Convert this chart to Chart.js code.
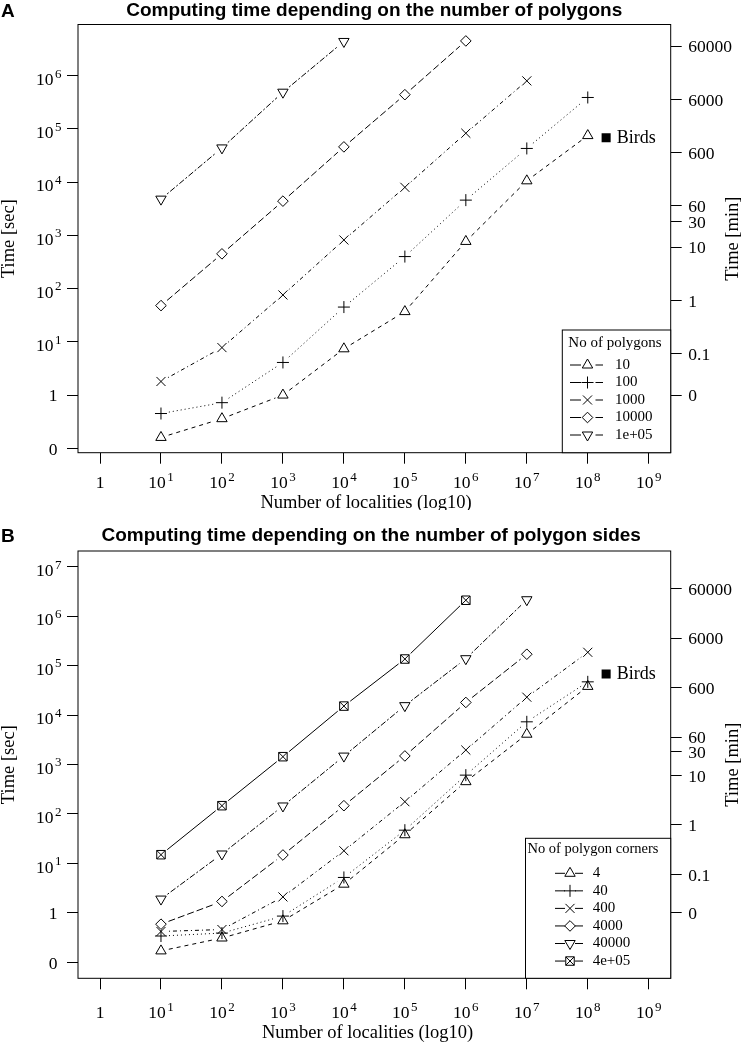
<!DOCTYPE html>
<html>
<head>
<meta charset="utf-8">
<script src="https://cdn.jsdelivr.net/npm/chart.js@4.4.1/dist/chart.umd.min.js"></script>
<style>
html, body { margin: 0; padding: 0; background: #fff; }
#wrap { position: relative; width: 741px; height: 1042px; }
canvas { position: absolute; left: 0; }
#cA { top: 0; }
#cB { top: 510px; }
</style>
</head>
<body>
<div id="wrap">
  <canvas id="cA" width="741" height="510"></canvas>
  <canvas id="cB" width="741" height="532"></canvas>
</div>
<script>
// number of localities (x axis)
var localities = [10, 1e2, 1e3, 1e4, 1e5, 1e6, 1e7, 1e8];

// A: computing time [sec] by number of polygons
var polyLabels = ['10', '100', '1000', '10000', '1e+05'];
var polyT10   = [0.16, 0.36, 1.0, 7.4, 37, 770, 10600, 75000];
var polyT100  = [0.45, 0.72, 4.1, 45, 400, 4600, 43000, 390000];
var polyT1000 = [1.8, 7.8, 76, 820, 8000, 83000, 800000];
var polyT1e4  = [48, 450, 4400, 46000, 440000, 4.5e6];
var polyT1e5  = [4800, 44000, 490000, 4.4e6];

// B: computing time [sec] by number of polygon corners
var sideLabels = ['4', '40', '400', '4000', '40000', '4e+05'];
var sideT4    = [0.17, 0.31, 0.69, 3.8, 38, 450, 4100, 38000];
var sideT40   = [0.34, 0.39, 0.86, 5.2, 47, 610, 7300, 47000];
var sideT400  = [0.42, 0.46, 2.1, 18, 177, 1960, 23000, 186000];
var sideT4000 = [0.59, 1.7, 14.8, 147, 1490, 18000, 170000];
var sideT4e4  = [1.9, 15.5, 145, 1480, 15500, 138000, 2.15e6];
var sideT4e5  = [15, 147, 1440, 15200, 136000, 2.1e6];

// the birds data set
var birdsA = {x: 2e8, y: 68000};
var birdsB = {x: 2e8, y: 67600};

// ticks ('^' marks the exponent)
var xTicks = [1, 10, 1e2, 1e3, 1e4, 1e5, 1e6, 1e7, 1e8, 1e9];
var xTickLabels = ['1', '10^1', '10^2', '10^3', '10^4', '10^5', '10^6', '10^7', '10^8', '10^9'];
var secTicksA = [0.1, 1, 10, 1e2, 1e3, 1e4, 1e5, 1e6];
var secTicksB = [0.1, 1, 10, 1e2, 1e3, 1e4, 1e5, 1e6, 1e7];
var secTickLabels = ['0', '1', '10^1', '10^2', '10^3', '10^4', '10^5', '10^6', '10^7'];
var minTicks = [1 / 60, 0.1, 1, 10, 30, 60, 600, 6000, 60000];
var minTickLabels = ['0', '0.1', '1', '10', '30', '60', '600', '6000', '60000'];

var SERIF = "'Liberation Serif', 'Times New Roman', serif";
var SANS = "'Liberation Sans', Arial, sans-serif";
var GAP = 8;

// marker + line type for each series (R pch 2..7, lty 2..6,1)
var marks = [
  {style: 'triangle', r: 6, rot: 0, dash: [4, 4]},
  {style: 'cross', r: 6, rot: 0, dash: [1, 3]},
  {style: 'crossRot', r: 6.4, rot: 0, dash: [1, 3, 4, 3]},
  {style: 'rectRot', r: 5.3, rot: 0, dash: [7, 3]},
  {style: 'triangle', r: 6, rot: 180, dash: [2, 2, 6, 2]},
  {style: 'boxx', r: 6, rot: 0, dash: []}
];

function pts(vals) {
  return vals.map(function (v, i) { return {x: localities[i], y: v}; });
}

function makeDatasets(series, labels, birds) {
  var ds = [];
  series.forEach(function (vals, i) {
    var m = marks[i];
    var d = {
      label: labels[i], data: pts(vals),
      borderColor: '#000', backgroundColor: 'rgba(0,0,0,0)',
      pointBorderWidth: 1, pointRadius: m.r, pointRotation: m.rot,
      pointStyle: m.style === 'boxx' ? 'rect' : m.style,
      dash: m.dash
    };
    ds.push(d);
    if (m.style === 'boxx') {
      ds.push({label: labels[i], data: d.data, borderColor: '#000', backgroundColor: 'rgba(0,0,0,0)',
        pointBorderWidth: 1, pointRadius: m.r, pointStyle: 'crossRot'});
    }
  });
  ds.push({label: 'Birds', data: [birds], pointStyle: 'rect', pointRadius: 6.4,
    backgroundColor: '#000', borderColor: '#000', pointBorderWidth: 0, birds: true});
  return ds;
}

// legend markers
function drawMarker(ctx, m, x, y) {
  var r = m.r, k = Math.SQRT1_2;
  ctx.beginPath();
  if (m.style === 'triangle') {
    var a = m.rot * Math.PI / 180;
    ctx.moveTo(x + Math.sin(a) * r, y - Math.cos(a) * r);
    a += 2 * Math.PI / 3;
    ctx.lineTo(x + Math.sin(a) * r, y - Math.cos(a) * r);
    a += 2 * Math.PI / 3;
    ctx.lineTo(x + Math.sin(a) * r, y - Math.cos(a) * r);
    ctx.closePath();
  } else if (m.style === 'cross') {
    ctx.moveTo(x - r, y); ctx.lineTo(x + r, y);
    ctx.moveTo(x, y - r); ctx.lineTo(x, y + r);
  } else if (m.style === 'crossRot') {
    ctx.moveTo(x - r * k, y - r * k); ctx.lineTo(x + r * k, y + r * k);
    ctx.moveTo(x - r * k, y + r * k); ctx.lineTo(x + r * k, y - r * k);
  } else if (m.style === 'rectRot') {
    ctx.moveTo(x - r, y); ctx.lineTo(x, y - r); ctx.lineTo(x + r, y); ctx.lineTo(x, y + r);
    ctx.closePath();
  } else if (m.style === 'boxx') {
    ctx.rect(x - r * k, y - r * k, 2 * r * k, 2 * r * k);
    ctx.moveTo(x - r * k, y - r * k); ctx.lineTo(x + r * k, y + r * k);
    ctx.moveTo(x - r * k, y + r * k); ctx.lineTo(x + r * k, y - r * k);
  }
  ctx.stroke();
}

// tick label, "10^k" gets a raised exponent
function tickText(ctx, text, x, y, align) {
  var parts = text.split('^');
  ctx.textBaseline = 'alphabetic';
  ctx.font = '17.5px ' + SERIF;
  if (parts.length === 1) {
    ctx.textAlign = align;
    ctx.fillText(text, x, y);
    return;
  }
  var w1 = ctx.measureText(parts[0]).width;
  ctx.font = '13px ' + SERIF;
  var w2 = ctx.measureText(parts[1]).width;
  var gap = 1.5, total = w1 + gap + w2;
  var x0 = align === 'left' ? x : (align === 'center' ? x - total / 2 : x - total);
  ctx.textAlign = 'left';
  ctx.fillText(parts[1], x0 + w1 + gap, y - 7.5);
  ctx.font = '17.5px ' + SERIF;
  ctx.fillText(parts[0], x0, y);
}

// lines with a gap round every point (like type="b")
var gapLines = {
  id: 'gapLines',
  beforeDatasetsDraw: function (chart) {
    var ctx = chart.ctx;
    ctx.save();
    ctx.strokeStyle = '#000';
    ctx.lineWidth = 1;
    chart.data.datasets.forEach(function (ds, i) {
      if (!ds.dash) return;
      var els = chart.getDatasetMeta(i).data;
      for (var j = 0; j < els.length - 1; j++) {
        var p = els[j], q = els[j + 1];
        var dx = q.x - p.x, dy = q.y - p.y, L = Math.sqrt(dx * dx + dy * dy);
        if (L <= 2 * GAP) continue;
        var ux = dx / L, uy = dy / L;
        ctx.setLineDash(ds.dash);
        ctx.lineDashOffset = 0;
        ctx.beginPath();
        ctx.moveTo(p.x + ux * GAP, p.y + uy * GAP);
        ctx.lineTo(q.x - ux * GAP, q.y - uy * GAP);
        ctx.stroke();
      }
    });
    ctx.restore();
  }
};

var layouts = {
  cA: {
    letter: {t: 'A', x: 1, y: 16.5},
    title: {t: 'Computing time depending on the number of polygons', x: 374.2, y: 16},
    xTitle: {t: 'Number of localities (log10)', x: 366, y: 508},
    xLab: 35.6,
    yTitle: {t: 'Time [sec]', x: 9.5},
    y2Title: {t: 'Time [min]', x: 733},
    legend: {left: 562.3, top: 330, title: 'No of polygons', titleSize: 15, titleX: 568.3, titleY: 343.3,
      y0: 365, dy: 17.5, lineL: [570, 581], mx: 587.5, lineR: [595.5, 603], tx: 615, labels: polyLabels}
  },
  cB: {
    letter: {t: 'B', x: 1, y: 31.7},
    title: {t: 'Computing time depending on the number of polygon sides', x: 371.2, y: 31},
    xTitle: {t: 'Number of localities (log10)', x: 367.5, y: 528.3},
    xLab: 40,
    yTitle: {t: 'Time [sec]', x: 9.5},
    y2Title: {t: 'Time [min]', x: 733},
    legend: {left: 525.5, top: 328.3, title: 'No of polygon corners', titleSize: 14.5, titleX: 527.5, titleY: 339.3,
      y0: 363.3, dy: 17.55, lineL: [555, 565], mx: 570, lineR: [575, 583], tx: 592.7, labels: sideLabels}
  }
};

var decor = {
  id: 'decor',
  afterDraw: function (chart) {
    var L = layouts[chart.canvas.id];
    var ctx = chart.ctx, a = chart.chartArea;
    ctx.save();
    ctx.strokeStyle = '#000';
    ctx.fillStyle = '#000';
    ctx.lineWidth = 1;
    ctx.setLineDash([]);
    // plot box
    ctx.strokeRect(a.left, a.top, a.right - a.left, a.bottom - a.top);

    // tick labels, placed by the chart's scales
    var sx = chart.scales.x, sy = chart.scales.y, sy2 = chart.scales.y2;
    sx.ticks.forEach(function (t, i) {
      tickText(ctx, xTickLabels[i], sx.getPixelForValue(t.value), a.bottom + L.xLab, 'center');
    });
    sy.ticks.forEach(function (t, i) {
      var lab = secTickLabels[i], py = sy.getPixelForValue(t.value);
      if (lab.indexOf('^') < 0) tickText(ctx, lab, 57.5, py + 6.3, 'right');
      else tickText(ctx, lab, 61.5, py + 9.3, 'right');
    });
    sy2.ticks.forEach(function (t, i) {
      tickText(ctx, minTickLabels[i], 688.3, sy2.getPixelForValue(t.value) + 6.3, 'left');
    });

    // titles
    ctx.textBaseline = 'alphabetic';
    ctx.font = 'bold 19px ' + SANS;
    ctx.textAlign = 'left';
    ctx.fillText(L.letter.t, L.letter.x, L.letter.y);
    ctx.textAlign = 'center';
    ctx.fillText(L.title.t, L.title.x, L.title.y);
    ctx.font = '18.5px ' + SERIF;
    ctx.fillText(L.xTitle.t, L.xTitle.x, L.xTitle.y);
    var cy = (a.top + a.bottom) / 2;
    ctx.textBaseline = 'middle';
    [L.yTitle, L.y2Title].forEach(function (t) {
      ctx.save();
      ctx.translate(t.x, cy);
      ctx.rotate(-Math.PI / 2);
      ctx.fillText(t.t, 0, 0);
      ctx.restore();
    });

    // birds label
    chart.data.datasets.forEach(function (ds, i) {
      if (!ds.birds) return;
      var p = chart.getDatasetMeta(i).data[0];
      ctx.font = '18px ' + SERIF;
      ctx.textAlign = 'left';
      ctx.fillText('Birds', p.x + 10.7, p.y);
    });

    // legend
    var g = L.legend;
    ctx.fillStyle = '#fff';
    ctx.fillRect(g.left, g.top, a.right - g.left, a.bottom - g.top);
    ctx.fillStyle = '#000';
    ctx.strokeRect(g.left, g.top, a.right - g.left, a.bottom - g.top);
    ctx.textAlign = 'left';
    ctx.font = g.titleSize + 'px ' + SERIF;
    ctx.fillText(g.title, g.titleX, g.titleY);
    ctx.font = '15px ' + SERIF;
    g.labels.forEach(function (lab, i) {
      var y = g.y0 + i * g.dy;
      ctx.beginPath();
      ctx.moveTo(g.lineL[0], y); ctx.lineTo(g.lineL[1], y);
      ctx.moveTo(g.lineR[0], y); ctx.lineTo(g.lineR[1], y);
      ctx.stroke();
      drawMarker(ctx, marks[i], g.mx, y);
      ctx.fillText(lab, g.tx, y);
    });
    ctx.restore();
  }
};

function logAxis(pos, min, max, tickVals, fit) {
  return {
    type: 'logarithmic', position: pos, min: min, max: max, bounds: 'data',
    border: {display: false},
    grid: {display: true, drawOnChartArea: false, drawTicks: true, tickLength: 11, color: '#000', lineWidth: 1},
    afterBuildTicks: function (s) { s.ticks = tickVals.map(function (v) { return {value: v}; }); },
    afterFit: fit,
    ticks: {display: false, autoSkip: false, maxRotation: 0}
  };
}

function makeChart(id, H, bottom, top, ymin, ymax, secTicks, datasets) {
  var minSec = minTicks.map(function (m) { return m * 60; });
  return new Chart(document.getElementById(id), {
    type: 'scatter',
    data: {datasets: datasets},
    options: {
      responsive: false, animation: false, devicePixelRatio: 1,
      layout: {padding: {top: top, left: 0, right: 0, bottom: 0}},
      plugins: {legend: {display: false}, tooltip: {enabled: false}},
      scales: {
        x: logAxis('bottom', Math.pow(10, -0.361), Math.pow(10, 9.36), xTicks,
          function (s) { s.height = H - bottom; }),
        y: logAxis('left', ymin, ymax, secTicks,
          function (s) { s.width = 78; }),
        y2: logAxis('right', ymin, ymax, minSec,
          function (s) { s.width = 741 - 670.7; })
      }
    },
    plugins: [gapLines, decor]
  });
}

makeChart('cA', 510, 452.7, 24.5, Math.pow(10, -1.0827), Math.pow(10, 6.962), secTicksA,
  makeDatasets([polyT10, polyT100, polyT1000, polyT1e4, polyT1e5], polyLabels, birdsA));

makeChart('cB', 532, 468.3, 41, Math.pow(10, -1.3236), Math.pow(10, 7.318), secTicksB,
  makeDatasets([sideT4, sideT40, sideT400, sideT4000, sideT4e4, sideT4e5], sideLabels, birdsB));
</script>
</body>
</html>
